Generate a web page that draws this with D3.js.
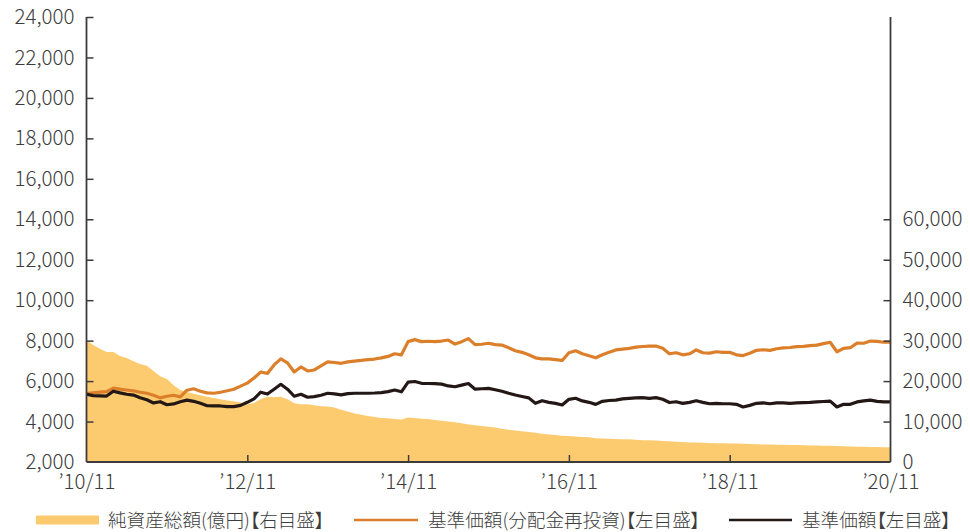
<!DOCTYPE html>
<html><head><meta charset="utf-8">
<script src="https://cdn.jsdelivr.net/npm/d3@7"></script>
<style>
html,body{margin:0;padding:0;background:#fff;}
svg{display:block;font-family:"Noto Sans CJK JP","Noto Sans",sans-serif;}
.lbl{font-feature-settings:"palt";}
</style></head>
<body><svg id="c" width="970" height="532"></svg>
<script>
// month offsets from 2010-11 (0..120)
const startMonth = "2010-11";
const xTickLabels = ["’10/11","’12/11","’14/11","’16/11","’18/11","’20/11"];
const xTickMonths = [0,24,48,72,96,120];
const leftTicks = [2000,4000,6000,8000,10000,12000,14000,16000,18000,20000,22000,24000];
const rightTicks = [0,10000,20000,30000,40000,50000,60000];
const legendLabels = ["純資産総額(億円)【右目盛】","基準価額(分配金再投資)【左目盛】","基準価額【左目盛】"];

// 基準価額(分配金再投資) monthly
const navReinvested = [5380,5420,5450,5480,5650,5600,5560,5520,5450,5400,5300,5170,5250,5300,5220,5550,5620,5500,5420,5400,
5450,5520,5600,5750,5900,6150,6450,6380,6800,7100,6900,6450,6700,6500,6550,6750,6950,6920,6880,6950,
6990,7020,7060,7090,7150,7220,7350,7300,7950,8050,7950,7970,7950,7980,8030,7830,7950,8100,7800,7820,
7870,7800,7780,7650,7500,7420,7300,7150,7100,7100,7060,7020,7400,7500,7350,7250,7150,7300,7420,7540,
7580,7620,7680,7710,7730,7730,7620,7350,7400,7300,7350,7540,7400,7380,7450,7420,7420,7300,7260,7380,
7520,7550,7520,7600,7640,7660,7700,7720,7750,7780,7850,7920,7450,7620,7650,7880,7870,7980,7960,7920,7930];
// 基準価額 monthly
const nav = [5350,5280,5270,5260,5500,5420,5350,5310,5180,5080,4920,4980,4830,4870,4980,5060,5000,4900,4780,4770,
4770,4740,4740,4800,4950,5120,5450,5360,5600,5840,5600,5250,5350,5200,5230,5300,5400,5370,5320,5380,
5400,5400,5400,5410,5430,5480,5560,5470,5950,5980,5890,5880,5870,5850,5760,5720,5800,5880,5600,5620,
5640,5570,5500,5400,5310,5240,5170,4900,5030,4950,4900,4820,5100,5150,5020,4950,4850,5000,5040,5060,
5120,5150,5170,5180,5150,5180,5100,4940,4980,4900,4950,5030,4950,4880,4900,4880,4880,4850,4720,4800,
4900,4920,4880,4920,4920,4900,4920,4940,4950,4970,4990,5010,4720,4850,4850,4970,5020,5060,5000,4970,4970];
// 純資産総額(億円) monthly
const netAssets = [30100,28900,28000,27200,27200,26200,25700,24900,24200,23800,22500,21200,20500,19000,17800,17300,16900,16500,16100,15800,
15500,15200,15000,14700,14300,14600,15500,16100,16000,16100,15500,14500,14300,14300,14000,13800,13700,13500,12900,12500,
12000,11700,11400,11100,10900,10800,10600,10500,11000,10900,10700,10600,10400,10200,10000,9800,9600,9300,9100,8900,
8700,8500,8200,8000,7800,7600,7400,7200,7000,6800,6650,6500,6400,6300,6200,6100,5900,5800,5750,5700,
5650,5600,5500,5400,5350,5300,5200,5100,5000,4950,4850,4800,4750,4700,4650,4620,4600,4550,4500,4450,
4380,4350,4300,4280,4250,4200,4180,4150,4100,4050,4030,4000,3950,3900,3850,3800,3750,3700,3680,3650,3620];

const svg = d3.select("#c");
const L = 86.5, R = 890.5, T = 17, B = 462;
const x = d3.scaleLinear().domain([0,120]).range([L,R]);
const yL = d3.scaleLinear().domain([2000,24000]).range([B,T]);
const yR = d3.scaleLinear().domain([0,110000]).range([B,T]);
const idx = d3.range(netAssets.length);
const txt = "#3c3c3c", axisCol = "#3c3c3c";

// area
svg.append("path")
  .attr("d", d3.area().x(i=>x(i)).y0(B).y1(i=>yR(netAssets[i]))(idx))
  .attr("fill","#fdcb6f");

const line = arr => d3.line().x(i=>x(i)).y(i=>yL(arr[i]))(idx);
svg.append("path").attr("d", line(navReinvested)).attr("fill","none")
  .attr("stroke","#db7f2a").attr("stroke-width",3.2).attr("stroke-linejoin","round");
svg.append("path").attr("d", line(nav)).attr("fill","none")
  .attr("stroke","#231815").attr("stroke-width",3.2).attr("stroke-linejoin","round");

// axes
const fmt = d3.format(",");
const gl = svg.append("g").attr("transform",`translate(${L},0)`)
  .call(d3.axisRight(yL).tickValues(leftTicks).tickSize(7).tickFormat(fmt));
gl.selectAll("text").attr("x",-12).attr("text-anchor","end");
const gr = svg.append("g").attr("transform",`translate(${R},0)`)
  .call(d3.axisLeft(yR).tickValues(rightTicks).tickSize(7).tickFormat(fmt));
gr.selectAll("text").attr("x",12).attr("text-anchor","start");
const gb = svg.append("g").attr("transform",`translate(0,${B})`)
  .call(d3.axisTop(x).tickValues(xTickMonths).tickSize(7).tickFormat((d,i)=>xTickLabels[i]));
gb.selectAll("text").attr("y",12).attr("dy","0.71em");
gb.select(".domain").attr("d",`M${L},0H${R}`);
gl.select(".domain").attr("d",`M0,${T}V${B}`);
gr.select(".domain").attr("d",`M0,${T}V${B}`);
[gl,gr,gb].forEach(g=>{
  g.attr("font-family",null).attr("font-size",null);
  g.selectAll("text").attr("fill",txt).style("font-size","20.5px").style("font-family","'Noto Sans CJK JP','Noto Sans',sans-serif").style("font-weight","300");
  g.selectAll("line").attr("stroke",axisCol).attr("stroke-width",1.5);
  g.select(".domain").attr("stroke",axisCol).attr("stroke-width",1.8);
});
gb.selectAll(".tick").filter(d=>d===0||d===120).select("line").remove();
gr.selectAll(".tick").filter(d=>d===0).select("line").remove();
gl.selectAll(".tick").filter(d=>d===2000).select("line").remove();

// legend
const ly = 520;
const lg = svg.append("g").attr("class","lbl");
lg.append("rect").attr("x",36).attr("y",ly-4.5).attr("width",63).attr("height",9).attr("fill","#fdcb6f");
lg.append("line").attr("x1",354).attr("x2",418).attr("y1",ly).attr("y2",ly).attr("stroke","#db7f2a").attr("stroke-width",2.5);
lg.append("line").attr("x1",729).attr("x2",792).attr("y1",ly).attr("y2",ly).attr("stroke","#231815").attr("stroke-width",2.5);
const lx = [108,428,802];
legendLabels.forEach((t,i)=>{
  lg.append("text").attr("x",lx[i]).attr("y",ly).attr("dy","0.35em")
    .attr("fill",txt).style("font-size","18.6px").style("font-weight","300").text(t);
});
</script></body></html>
